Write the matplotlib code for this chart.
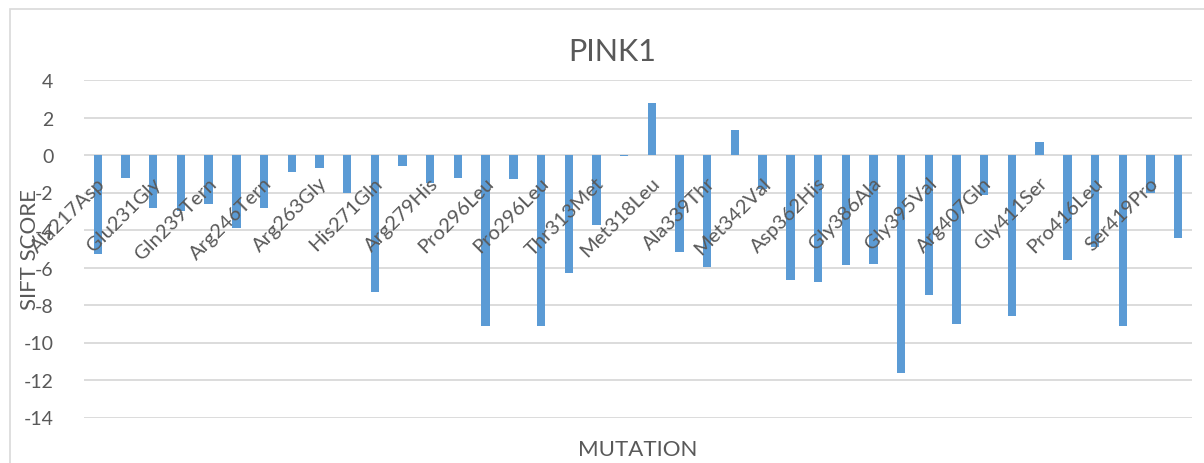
import matplotlib
matplotlib.use("Agg")
import matplotlib.pyplot as plt
import matplotlib.transforms as mtransforms
from matplotlib.patches import Rectangle

# ---- data ----
title = "PINK1"
x_title = "MUTATION"
y_title = "SIFT SCORE"
shown_labels = ["Ala217Asp", "Glu231Gly", "Gln239Tern", "Arg246Tern", "Arg263Gly",
                "His271Gln", "Arg279His", "Pro296Leu", "Pro296Leu", "Thr313Met",
                "Met318Leu", "Ala339Thr", "Met342Val", "Asp362His", "Gly386Ala",
                "Gly395Val", "Arg407Gln", "Gly411Ser", "Pro416Leu", "Ser419Pro"]
sift_scores = [-5.3, -1.2, -2.85, -3.0, -2.6, -3.9, -2.8, -0.9, -0.7, -2.0,
               -7.3, -0.6, -1.5, -1.2, -9.1, -1.3, -9.1, -6.3, -3.75, -0.05,
               2.75, -5.15, -5.95, 1.35, -1.8, -6.65, -6.75, -5.85, -5.8, -11.6,
               -7.45, -9.0, -2.15, -8.6, 0.7, -5.6, -4.9, -9.1, -2.05, -4.45]
y_ticks = [4, 2, 0, -2, -4, -6, -8, -10, -12, -14]

FONT = ["Lato", "DejaVu Sans"]
plt.rcParams["font.family"] = FONT
TXT = "#595959"
GRID = "#D9D9D9"
BAR = "#5B9BD5"

W, H = 1204, 464
fig = plt.figure(figsize=(W / 100, H / 100), dpi=100)

# chart area border (Excel style)
fig.patches.append(Rectangle((10 / W, -0.1), 1.2, (H - 10) / H + 0.1,
                             transform=fig.transFigure, fill=False,
                             edgecolor=GRID, linewidth=1.2))

ax = fig.add_axes([84 / W, (H - 418.5) / H, (1192 - 84) / W, (418.5 - 81) / H])
xs = list(range(len(sift_scores)))
ax.bar(xs, sift_scores, width=0.3, color=BAR, zorder=3)
ax.set_xlim(-0.5, len(sift_scores) - 0.5)
ax.set_ylim(-14, 4)
ax.set_yticks(y_ticks)
ax.set_yticklabels([str(v) for v in y_ticks], fontsize=14, color=TXT)
ax.tick_params(axis="y", length=0, pad=22)
ax.set_xticks([])
ax.yaxis.grid(True, color=GRID, linewidth=1.3, zorder=0)
ax.set_axisbelow(True)
for s in ax.spines.values():
    s.set_visible(False)

# category labels at the zero line (every other category is labelled)
off = mtransforms.ScaledTranslation(5 / 100, -25 / 100, fig.dpi_scale_trans)
for i, lab in enumerate(shown_labels):
    ax.text(xs[2 * i], 0, lab, rotation=45, rotation_mode="anchor",
            ha="right", va="center", fontsize=14.5, color=TXT,
            transform=ax.transData + off, zorder=4)

fig.text(612 / W, 1 - 52 / H, title, ha="center", va="center", fontsize=22, color=TXT)
fig.text(638 / W, 1 - 450 / H, x_title, ha="center", va="center", fontsize=16, color=TXT)
fig.text(30.5 / W, 1 - 250 / H, y_title, ha="center", va="center", rotation=90,
         fontsize=16, color=TXT)

fig.savefig("out.png", dpi=100)
